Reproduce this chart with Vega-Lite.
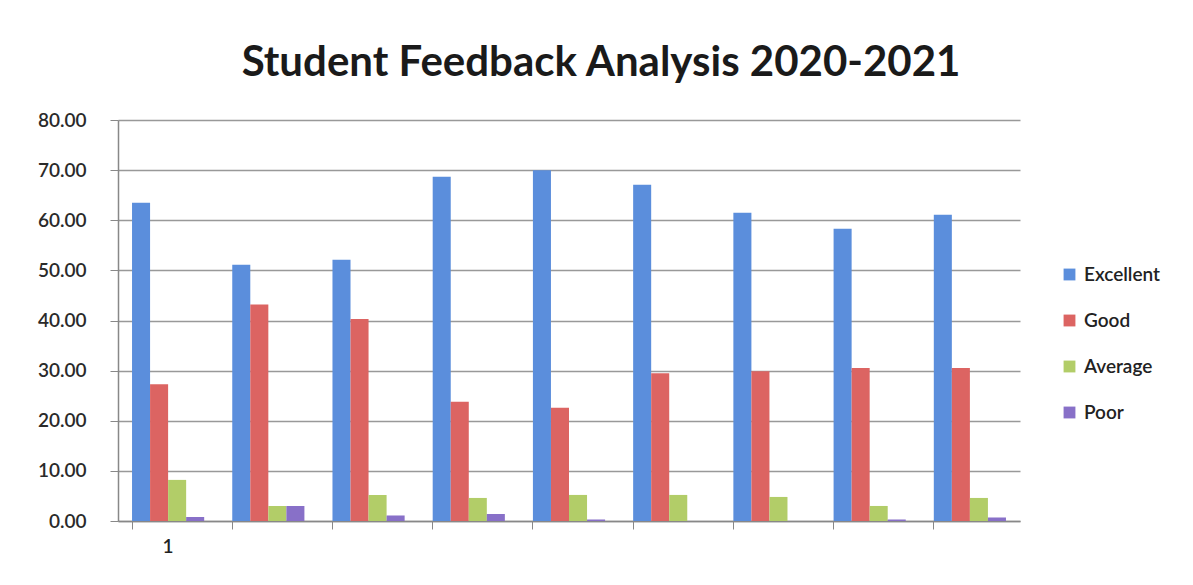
{
  "$schema": "https://vega.github.io/schema/vega-lite/v6.json",
  "width": 902,
  "height": 401,
  "autosize": "none",
  "padding": {"left": 118, "top": 120, "right": 173, "bottom": 64},
  "background": "white",
  "title": {
    "text": "Student Feedback Analysis 2020-2021",
    "font": "Lato",
    "fontSize": 42,
    "fontWeight": "bold",
    "color": "#1a1a1a",
    "anchor": "middle",
    "frame": "group",
    "dx": 32,
    "offset": 26
  },
  "data": {
    "values": [
      {"group": 1, "rating": "Excellent", "value": 63.5},
      {"group": 1, "rating": "Good", "value": 27.3},
      {"group": 1, "rating": "Average", "value": 8.2},
      {"group": 1, "rating": "Poor", "value": 0.8},
      {"group": 2, "rating": "Excellent", "value": 51.1},
      {"group": 2, "rating": "Good", "value": 43.2},
      {"group": 2, "rating": "Average", "value": 3.0},
      {"group": 2, "rating": "Poor", "value": 3.0},
      {"group": 3, "rating": "Excellent", "value": 52.1},
      {"group": 3, "rating": "Good", "value": 40.3},
      {"group": 3, "rating": "Average", "value": 5.2},
      {"group": 3, "rating": "Poor", "value": 1.1},
      {"group": 4, "rating": "Excellent", "value": 68.7},
      {"group": 4, "rating": "Good", "value": 23.8},
      {"group": 4, "rating": "Average", "value": 4.6},
      {"group": 4, "rating": "Poor", "value": 1.4},
      {"group": 5, "rating": "Excellent", "value": 70.0},
      {"group": 5, "rating": "Good", "value": 22.6},
      {"group": 5, "rating": "Average", "value": 5.2},
      {"group": 5, "rating": "Poor", "value": 0.3},
      {"group": 6, "rating": "Excellent", "value": 67.1},
      {"group": 6, "rating": "Good", "value": 29.5},
      {"group": 6, "rating": "Average", "value": 5.2},
      {"group": 6, "rating": "Poor", "value": 0.0},
      {"group": 7, "rating": "Excellent", "value": 61.5},
      {"group": 7, "rating": "Good", "value": 29.9},
      {"group": 7, "rating": "Average", "value": 4.8},
      {"group": 7, "rating": "Poor", "value": 0.0},
      {"group": 8, "rating": "Excellent", "value": 58.3},
      {"group": 8, "rating": "Good", "value": 30.5},
      {"group": 8, "rating": "Average", "value": 3.0},
      {"group": 8, "rating": "Poor", "value": 0.3},
      {"group": 9, "rating": "Excellent", "value": 61.1},
      {"group": 9, "rating": "Good", "value": 30.5},
      {"group": 9, "rating": "Average", "value": 4.6},
      {"group": 9, "rating": "Poor", "value": 0.7}
    ]
  },
  "mark": {"type": "bar"},
  "encoding": {
    "x": {
      "field": "group",
      "type": "ordinal",
      "scale": {"paddingInner": 0.28, "paddingOuter": 0.14},
      "axis": {
        "title": null,
        "labelAngle": 0,
        "labelExpr": "datum.value == 1 ? '1' : ''",
        "labelFont": "Lato",
        "labelFontSize": 19,
        "labelFontWeight": 600,
        "labelColor": "#222",
        "labelPadding": 8,
        "bandPosition": 0,
        "tickSize": 8,
        "tickColor": "#888",
        "domainColor": "#888",
        "domainWidth": 1.5,
        "grid": false
      }
    },
    "xOffset": {"field": "rating", "sort": ["Excellent", "Good", "Average", "Poor"]},
    "y": {
      "field": "value",
      "type": "quantitative",
      "scale": {"domain": [0, 80]},
      "axis": {
        "title": null,
        "values": [0, 10, 20, 30, 40, 50, 60, 70, 80],
        "format": ".2f",
        "labelFont": "Lato",
        "labelFontSize": 19,
        "labelFontWeight": 600,
        "labelColor": "#2a2a2a",
        "tickSize": 8,
        "tickColor": "#888",
        "labelPadding": 24,
        "domainColor": "#888",
        "domainWidth": 1.5,
        "gridColor": "#999",
        "gridWidth": 1.3
      }
    },
    "color": {
      "field": "rating",
      "type": "nominal",
      "sort": ["Excellent", "Good", "Average", "Poor"],
      "scale": {
        "domain": ["Excellent", "Good", "Average", "Poor"],
        "range": ["#5b8edc", "#dc6462", "#b2cd68", "#8870c8"]
      },
      "legend": {
        "title": null,
        "orient": "none",
        "legendX": 942,
        "legendY": 145,
        "symbolType": "square",
        "symbolSize": 140,
        "symbolStrokeWidth": 0,
        "labelFont": "Lato",
        "labelFontSize": 19,
        "labelFontWeight": 600,
        "labelColor": "#222",
        "rowPadding": 26,
        "labelOffset": 5
      }
    }
  },
  "config": {
    "view": {"stroke": null}
  }
}
